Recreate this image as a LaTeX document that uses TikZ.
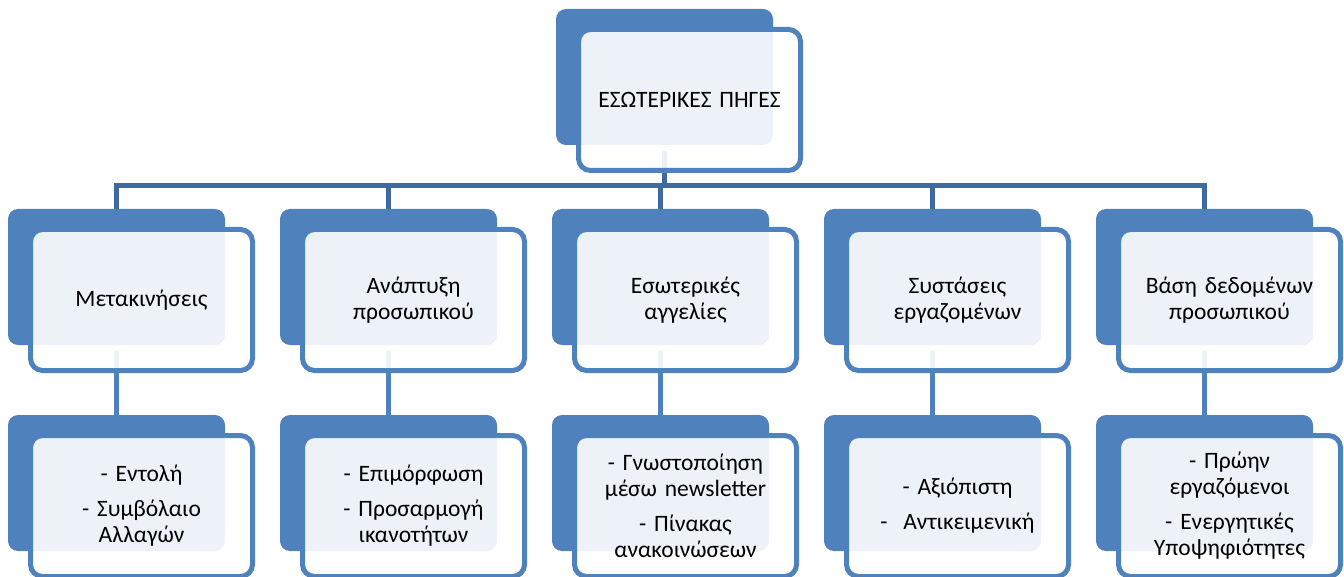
\documentclass[tikz,border=0pt]{standalone}
\usepackage{fontspec}
\setmainfont{Carlito}
\pgfdeclarelayer{bg}
\pgfsetlayers{bg,main}
\definecolor{accent}{RGB}{79,129,189}
\definecolor{linkdark}{RGB}{62,106,160}
\tikzset{
  back/.style={rectangle, rounded corners=10pt, fill=accent,
    minimum width=217pt, minimum height=136pt, inner sep=0pt},
  front/.style={rectangle, rounded corners=12pt, draw=accent, line width=5pt,
    fill=white, fill opacity=0.9, text opacity=1,
    minimum width=222pt, minimum height=141pt, inner sep=0pt,
    text width=214pt, align=center, font=\fontsize{23.5}{26}\selectfont},
  trunk/.style={draw=linkdark, line width=5pt, line join=miter},
  branch/.style={draw=accent, line width=5pt},
}
% one unit: blue back card plus translucent front card holding the text
% #1 name, #2 left edge, #3 top edge, #4 text
\newcommand\orgunit[4]{%
  \node[back] (#1b) at (#2+108.5, #3+68) {};
  \node[front] (#1) at (#2+133.5, #3+91) {#4};
}
\begin{document}
\begin{tikzpicture}[x=1pt, y=-1pt]
  \useasboundingbox (0,0) rectangle (1344,577);

  % top level
  \orgunit{top}{556}{9}{ΕΣΩΤΕΡΙΚΕΣ ΠΗΓΕΣ}

  % second level
  \orgunit{ma}{8}{209}{Μετακινήσεις}
  \orgunit{mb}{280}{209}{Ανάπτυξη\\προσωπικού}
  \orgunit{mc}{552}{209}{Εσωτερικές\\αγγελίες}
  \orgunit{md}{824}{209}{Συστάσεις\\εργαζομένων}
  \orgunit{me}{1096}{209}{Βάση δεδομένων\\προσωπικού}

  % third level
  \orgunit{ba}{8}{415}{- Εντολή\\[9pt]- Συμβόλαιο\\Αλλαγών}
  \orgunit{bb}{280}{415}{- Επιμόρφωση\\[9pt]- Προσαρμογή\\ικανοτήτων}
  \orgunit{bc}{552}{415}{- Γνωστοποίηση\\μέσω newsletter\\[9pt]- Πίνακας\\ανακοινώσεων}
  \orgunit{bd}{824}{415}{- Αξιόπιστη\\[9pt]-\ \ Αντικειμενική}
  \orgunit{be}{1096}{415}{- Πρώην\\εργαζόμενοι\\[9pt]- Ενεργητικές\\Υποψηφιότητες}

  % connectors, kept underneath the cards
  \begin{pgfonlayer}{bg}
    \coordinate (bus) at (0,185.5);
    \draw[trunk] ([yshift=-6pt]topb.south) -- (topb.south |- bus);
    \draw[trunk] (mab.north) -- (mab.north |- bus) -- (meb.north |- bus) -- (meb.north);
    \foreach \n in {mb,mc,md}
      \draw[trunk] (\n b.north |- bus) -- (\n b.north);
    \foreach \u/\l in {ma/ba,mb/bb,mc/bc,md/bd,me/be}
      \draw[branch] ([yshift=-6pt]\u b.south) -- (\l b.north);
  \end{pgfonlayer}
\end{tikzpicture}
\end{document}
